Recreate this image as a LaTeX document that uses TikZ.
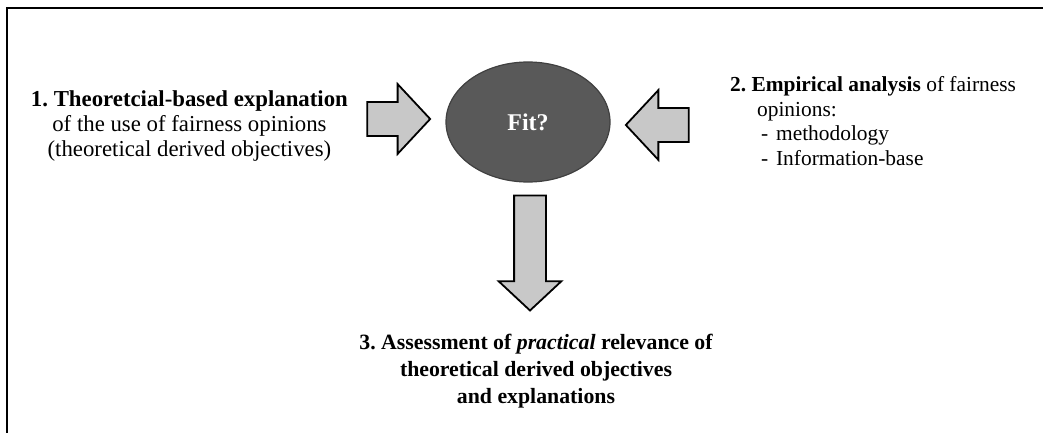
\documentclass[tikz,border=0pt]{standalone}
\usepackage{fontspec}
\setmainfont{Liberation Serif}
\frenchspacing
\usetikzlibrary{shapes.geometric, shapes.arrows, positioning}
\definecolor{fitgray}{RGB}{89,89,89}
\definecolor{fitedge}{RGB}{64,64,64}
\definecolor{arrowgray}{RGB}{200,200,200}
\tikzset{
x=0.5pt, y=-0.5pt, % one unit is one pixel of the sketch, y runs down
fitnode/.style={ellipse, draw=fitedge, line width=0.6pt, fill=fitgray, text=white, minimum width=82pt, minimum height=60pt, font=\fontsize{12}{14}\selectfont\bfseries}, % the question in the middle
bigarrow/.style={single arrow, draw=black, line width=0.9pt, fill=arrowgray, single arrow tip angle=94, single arrow head indent=0pt}, % the grey block arrows
sidearrow/.style={bigarrow, inner xsep=0pt, inner ysep=8pt, single arrow head extend=9pt, minimum height=31.5pt},
downarrow/.style={bigarrow, inner xsep=7.5pt, inner ysep=0pt, single arrow head extend=7.75pt, minimum height=57.5pt, shape border rotate=270}, % rotated, so the shaft takes the x sep
labeltext/.style={inner sep=0pt, font=\fontsize{11.4}{12.5}\selectfont}, % the three step texts
}
\begin{document}
\begin{tikzpicture}
        \useasboundingbox (0,0) rectangle (1043,433);
        % open frame
        \draw[line width=0.9pt] (7,433) |- (1043,8);

        % centre
        \node[fitnode] (fit) at (528,122) {Fit?};

        % arrows
        \node[sidearrow, left=7pt of fit.west, anchor=tip, yshift=1.5pt] (thArrow) {};
        \node[sidearrow, shape border rotate=180, right=7pt of fit.east, anchor=tip, yshift=-1.5pt] (emArrow) {};
        \node[downarrow, below=6pt of fit.south, anchor=tail, xshift=1pt] (outArrow) {};

        % step texts
        \node[labeltext, align=center, left=9pt of thArrow.tail, anchor=east, yshift=-3.5pt] (theory)
            {\textbf{1. Theoretcial-based explanation}\\ of the use of fairness opinions\\ (theoretical derived objectives)};
        \node[labeltext, font=\fontsize{10.7}{12.2}\selectfont, align=left, right=20pt of emArrow.tail, yshift=2pt] (empiric)
            {\textbf{2. Empirical analysis} of fairness\\ \hspace*{13.5pt}opinions:\\
             \makebox[23pt][l]{\hspace*{15.5pt}-}methodology\\ \makebox[23pt][l]{\hspace*{15.5pt}-}Information-base};
        \node[labeltext, font=\fontsize{10.9}{13.5}\selectfont\bfseries, align=center, below=11pt of outArrow.tip, xshift=3pt] (assess)
            {3. Assessment of \textit{practical} relevance of\\ theoretical derived objectives\\ and explanations};
    \end{tikzpicture}
\end{document}
